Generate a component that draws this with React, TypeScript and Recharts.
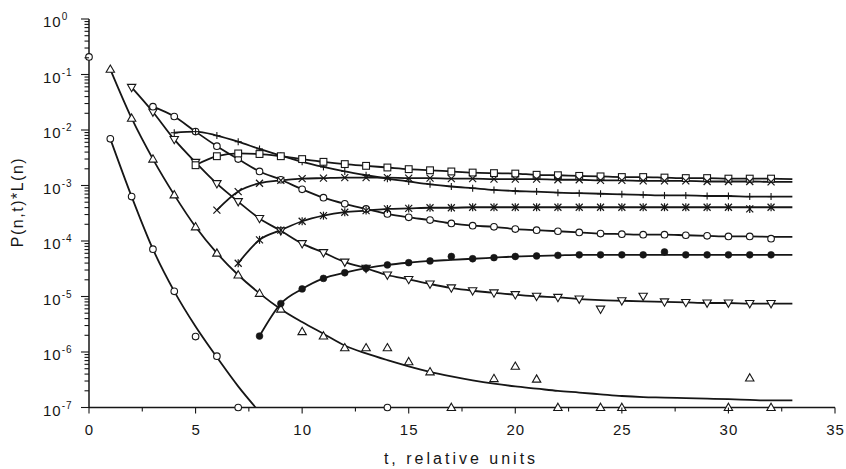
import React from 'react';
import { ComposedChart, Line, Scatter, XAxis, YAxis, Customized } from 'recharts';

const FONT = '"Liberation Sans", Arial, Helvetica, sans-serif';
const INK = '#161616';

// ---------- axes ----------
const X_TICKS = [0, 2.5, 5, 7.5, 10, 12.5, 15, 17.5, 20, 22.5, 25, 27.5, 30, 32.5, 35];
const X_LABEL_EVERY = 5;
const Y_DECADES = [-7, -6, -5, -4, -3, -2, -1];
const Y_MULTIPLIERS = [1, 2, 3, 4, 5, 6, 7, 8, 9];
const Y_TOP = 1;
const Y_TICKS: number[] = [];
Y_DECADES.forEach((e) => Y_MULTIPLIERS.forEach((m) => Y_TICKS.push(m * Math.pow(10, e))));
Y_TICKS.push(Y_TOP);
const FLOOR = 1e-7;

const X_TITLE = 't, relative units';
const Y_TITLE = 'P(n,t)*L(n)';

// ---------- series (lines: value at t = start, start+1, ...) ----------
// A: open circles
const A_START = 1;
const A_LINE = [6.92e-3, 6.31e-4, 7.11e-5, 1.24e-5, 2.88e-6, 8.04e-7, 2.4e-7, 8.3e-8];
const A_MARK_T = [0, 1, 2, 3, 4, 5, 6, 7, 14];
const A_MARK_V = [2.07e-1, 6.92e-3, 6.31e-4, 7.11e-5, 1.24e-5, 1.9e-6, 8.41e-7, FLOOR, FLOOR];

// B: triangles up
const B_START = 1;
const B_LINE = [
  1.24e-1, 1.63e-2, 2.99e-3, 6.78e-4, 1.8e-4, 6.04e-5, 2.44e-5, 1.14e-5, 5.92e-6, 3.47e-6,
  2.13e-6, 1.31e-6, 9.44e-7, 7.14e-7, 5.53e-7, 4.39e-7, 3.64e-7, 3.09e-7, 2.69e-7, 2.4e-7,
  2.19e-7, 1.99e-7, 1.86e-7, 1.73e-7, 1.61e-7, 1.54e-7, 1.51e-7, 1.47e-7, 1.44e-7, 1.41e-7,
  1.37e-7, 1.34e-7, 1.34e-7,
];
const B_MARK_T = [1, 2, 3, 4, 5, 6, 7, 8, 9, 10, 11, 12, 13, 14, 15, 16, 17, 19, 20, 21, 22, 24, 25, 30, 31, 32];
const B_MARK_V = [
  1.24e-1, 1.63e-2, 2.99e-3, 6.78e-4, 1.8e-4, 6.04e-5, 2.44e-5, 1.14e-5, 5.92e-6, 2.33e-6,
  1.94e-6, 1.19e-6, 1.19e-6, 1.19e-6, 6.67e-7, 4.39e-7, FLOOR, 3.32e-7, 5.53e-7, 3.24e-7,
  FLOOR, FLOOR, FLOOR, FLOOR, 3.4e-7, FLOOR,
];

// C: triangles down
const C_START = 2;
const C_LINE = [
  5.86e-2, 2.11e-2, 6.76e-3, 2.61e-3, 1.08e-3, 5.13e-4, 2.55e-4, 1.53e-4, 8.97e-5, 6.18e-5,
  4.17e-5, 3.23e-5, 2.44e-5, 2.03e-5, 1.68e-5, 1.43e-5, 1.27e-5, 1.16e-5, 1.08e-5, 1.01e-5,
  9.64e-6, 8.99e-6, 8.59e-6, 8.39e-6, 8.2e-6, 8.0e-6, 7.82e-6, 7.64e-6, 7.64e-6, 7.46e-6,
  7.46e-6, 7.46e-6,
];
const C_MARK_FIX_T = [24, 26];
const C_MARK_FIX_V = [5.92e-6, 1.01e-5];

// D: open circles (upper family)
const D_START = 3;
const D_LINE = [
  2.63e-2, 1.75e-2, 9.35e-3, 5.11e-3, 2.99e-3, 1.79e-3, 1.27e-3, 8.55e-4, 6.03e-4, 4.67e-4,
  3.79e-4, 3.08e-4, 2.67e-4, 2.38e-4, 2.07e-4, 1.89e-4, 1.8e-4, 1.64e-4, 1.57e-4, 1.5e-4,
  1.43e-4, 1.36e-4, 1.33e-4, 1.3e-4, 1.3e-4, 1.27e-4, 1.24e-4, 1.21e-4, 1.21e-4, 1.19e-4,
  1.19e-4,
];
const D_MARK_FIX_T = [32];
const D_MARK_FIX_V = [1.1e-4];

// E: plus
const E_START = 4;
const E_LINE = [
  8.93e-3, 9.35e-3, 7.94e-3, 6.15e-3, 4.55e-3, 3.44e-3, 2.67e-3, 2.16e-3, 1.79e-3, 1.53e-3,
  1.33e-3, 1.18e-3, 1.05e-3, 9.59e-4, 8.95e-4, 8.34e-4, 7.96e-4, 7.78e-4, 7.43e-4, 7.26e-4,
  7.1e-4, 6.93e-4, 6.78e-4, 6.62e-4, 6.62e-4, 6.47e-4, 6.47e-4, 6.31e-4, 6.31e-4, 6.31e-4,
];

// F: squares
const F_START = 5;
const F_LINE = [
  2.32e-3, 3.37e-3, 3.78e-3, 3.69e-3, 3.37e-3, 2.99e-3, 2.67e-3, 2.43e-3, 2.26e-3, 2.11e-3,
  1.97e-3, 1.88e-3, 1.79e-3, 1.71e-3, 1.67e-3, 1.64e-3, 1.56e-3, 1.53e-3, 1.49e-3, 1.46e-3,
  1.42e-3, 1.42e-3, 1.39e-3, 1.36e-3, 1.36e-3, 1.33e-3, 1.33e-3, 1.33e-3, 1.3e-3,
];

// G: crosses
const G_START = 6;
const G_LINE = [
  3.61e-4, 7.78e-4, 1.1e-3, 1.24e-3, 1.33e-3, 1.36e-3, 1.39e-3, 1.39e-3, 1.39e-3, 1.36e-3,
  1.36e-3, 1.33e-3, 1.33e-3, 1.3e-3, 1.3e-3, 1.3e-3, 1.27e-3, 1.27e-3, 1.24e-3, 1.24e-3,
  1.21e-3, 1.21e-3, 1.21e-3, 1.18e-3, 1.18e-3, 1.18e-3, 1.16e-3, 1.16e-3,
];

// H: asterisks
const H_START = 7;
const H_LINE = [
  3.98e-5, 1.05e-4, 1.57e-4, 2.27e-4, 2.86e-4, 3.3e-4, 3.53e-4, 3.79e-4, 3.87e-4, 3.97e-4,
  3.97e-4, 4.06e-4, 4.06e-4, 4.06e-4, 4.06e-4, 4.06e-4, 4.06e-4, 4.06e-4, 4.06e-4, 4.06e-4,
  4.06e-4, 4.06e-4, 4.06e-4, 4.06e-4, 4.06e-4, 4.06e-4, 4.06e-4,
];
const H_MARK_FIX_T = [31];
const H_MARK_FIX_V = [3.79e-4];

// I: filled circles
const I_START = 8;
const I_LINE = [
  1.94e-6, 7.46e-6, 1.37e-5, 2.12e-5, 2.68e-5, 3.23e-5, 3.71e-5, 4.07e-5, 4.37e-5, 4.57e-5,
  4.79e-5, 5.01e-5, 5.26e-5, 5.38e-5, 5.51e-5, 5.64e-5, 5.64e-5, 5.64e-5, 5.64e-5, 5.64e-5,
  5.64e-5, 5.64e-5, 5.64e-5, 5.64e-5, 5.64e-5, 5.64e-5,
];
const I_MARK_FIX_T = [17, 27];
const I_MARK_FIX_V = [5.26e-5, 6.34e-5];

const LAST_MARK_T = 32;

// ---------- helpers ----------
type Pt = { t: number; v: number };
const linePts = (start: number, vals: number[]): Pt[] => vals.map((v, i) => ({ t: start + i, v }));
const pairPts = (ts: number[], vs: number[]): Pt[] => ts.map((t, i) => ({ t, v: vs[i] }));
const markPts = (start: number, vals: number[], fixT: number[] = [], fixV: number[] = []): Pt[] =>
  linePts(start, vals)
    .filter((p) => p.t <= LAST_MARK_T)
    .map((p) => {
      const k = fixT.indexOf(p.t);
      return k >= 0 ? { t: p.t, v: fixV[k] } : p;
    });

type Kind = 'circle' | 'dot' | 'triUp' | 'triDown' | 'square' | 'plus' | 'cross' | 'star';

const Mark = ({ kind, cx, cy }: { kind: Kind; cx: number; cy: number }) => {
  if (cx == null || cy == null || isNaN(cx) || isNaN(cy)) return null;
  const sw = 1.1;
  switch (kind) {
    case 'circle':
      return <circle cx={cx} cy={cy} r={3.3} fill="#fff" stroke={INK} strokeWidth={sw} />;
    case 'dot':
      return <circle cx={cx} cy={cy} r={3.4} fill={INK} stroke={INK} strokeWidth={0.6} />;
    case 'triUp':
      return (
        <polygon
          points={`${cx},${cy - 4.3} ${cx + 4.2},${cy + 3} ${cx - 4.2},${cy + 3}`}
          fill="#fff"
          stroke={INK}
          strokeWidth={sw}
        />
      );
    case 'triDown':
      return (
        <polygon
          points={`${cx},${cy + 4.3} ${cx + 4.2},${cy - 3} ${cx - 4.2},${cy - 3}`}
          fill="#fff"
          stroke={INK}
          strokeWidth={sw}
        />
      );
    case 'square':
      return <rect x={cx - 3.4} y={cy - 3.4} width={6.8} height={6.8} fill="#fff" stroke={INK} strokeWidth={sw} />;
    case 'plus':
      return (
        <g stroke={INK} strokeWidth={1.1}>
          <line x1={cx} x2={cx} y1={cy - 3.5} y2={cy + 3.5} />
          <line x1={cx - 3.5} x2={cx + 3.5} y1={cy} y2={cy} />
        </g>
      );
    case 'cross':
      return (
        <g stroke={INK} strokeWidth={1.2}>
          <line x1={cx - 3.5} x2={cx + 3.5} y1={cy - 3.5} y2={cy + 3.5} />
          <line x1={cx - 3.5} x2={cx + 3.5} y1={cy + 3.5} y2={cy - 3.5} />
        </g>
      );
    case 'star':
      return (
        <g stroke={INK} strokeWidth={1.2}>
          <line x1={cx - 3.5} x2={cx + 3.5} y1={cy - 3.5} y2={cy + 3.5} />
          <line x1={cx - 3.5} x2={cx + 3.5} y1={cy + 3.5} y2={cy - 3.5} />
          <line x1={cx} x2={cx} y1={cy - 4} y2={cy + 4} />
        </g>
      );
  }
  return null;
};

const YTick = (props: any) => {
  const { x, y, payload } = props;
  const v = payload.value as number;
  const lg = Math.log10(v);
  const major = Math.abs(lg - Math.round(lg)) < 1e-6;
  const len = major ? 8 : 4.5;
  return (
    <g>
      <line x1={x} x2={x - len} y1={y} y2={y} stroke={INK} strokeWidth={1.1} />
      {major && (
        <text x={x - 46} y={y + 8} fontSize={15} fontFamily={FONT} fill={INK} letterSpacing={1}>
          10
          <tspan dy={-7} fontSize={10}>
            {String(Math.round(lg))}
          </tspan>
        </text>
      )}
    </g>
  );
};

const XTick = (props: any) => {
  const { x, y, payload } = props;
  const v = payload.value as number;
  const major = v % X_LABEL_EVERY === 0;
  return (
    <g>
      <line x1={x} x2={x} y1={y} y2={y + (major ? 6 : 4)} stroke={INK} strokeWidth={1.1} />
      {major && (
        <text x={x + 0.5} y={y + 27} textAnchor="middle" fontSize={15} fontFamily={FONT} fill={INK} letterSpacing={1}>
          {String(v)}
        </text>
      )}
    </g>
  );
};

const Titles = () => (
  <g fontFamily={FONT} fill={INK}>
    <text x={461} y={464} textAnchor="middle" fontSize={16} letterSpacing={3}>
      {X_TITLE}
    </text>
    <text transform="translate(22.5,202) rotate(-90)" textAnchor="middle" fontSize={16} letterSpacing={1.5}>
      {Y_TITLE}
    </text>
  </g>
);

const SERIES: { key: string; kind: Kind; line: Pt[]; marks: Pt[] }[] = [
  { key: 'A', kind: 'circle', line: linePts(A_START, A_LINE), marks: pairPts(A_MARK_T, A_MARK_V) },
  { key: 'B', kind: 'triUp', line: linePts(B_START, B_LINE), marks: pairPts(B_MARK_T, B_MARK_V) },
  { key: 'C', kind: 'triDown', line: linePts(C_START, C_LINE), marks: markPts(C_START, C_LINE, C_MARK_FIX_T, C_MARK_FIX_V) },
  { key: 'D', kind: 'circle', line: linePts(D_START, D_LINE), marks: markPts(D_START, D_LINE, D_MARK_FIX_T, D_MARK_FIX_V) },
  { key: 'E', kind: 'plus', line: linePts(E_START, E_LINE), marks: markPts(E_START, E_LINE) },
  { key: 'F', kind: 'square', line: linePts(F_START, F_LINE), marks: markPts(F_START, F_LINE) },
  { key: 'G', kind: 'cross', line: linePts(G_START, G_LINE), marks: markPts(G_START, G_LINE) },
  { key: 'H', kind: 'star', line: linePts(H_START, H_LINE), marks: markPts(H_START, H_LINE, H_MARK_FIX_T, H_MARK_FIX_V) },
  { key: 'I', kind: 'dot', line: linePts(I_START, I_LINE), marks: markPts(I_START, I_LINE, I_MARK_FIX_T, I_MARK_FIX_V) },
];

export default function App() {
  return (
    <div style={{ position: 'absolute', left: 0, top: 0, width: 846, height: 469, background: '#fff' }}>
      <ComposedChart width={846} height={469} margin={{ top: 19, right: 11, bottom: 0, left: 0 }}>
        <XAxis
          xAxisId="x"
          dataKey="t"
          type="number"
          domain={[0, 35]}
          ticks={X_TICKS}
          interval={0}
          tickLine={false}
          tickSize={0}
          tickMargin={0}
          axisLine={{ stroke: INK, strokeWidth: 1.5 }}
          tick={<XTick />}
          height={61.5}
        />
        <YAxis
          yAxisId="main"
          dataKey="v"
          type="number"
          scale="log"
          domain={[FLOOR, Y_TOP]}
          allowDataOverflow
          ticks={Y_TICKS}
          interval={0}
          tickLine={false}
          tickSize={0}
          tickMargin={0}
          axisLine={{ stroke: INK, strokeWidth: 1.5 }}
          tick={<YTick />}
          width={89}
        />
        <YAxis
          yAxisId="m"
          orientation="right"
          dataKey="v"
          type="number"
          scale="log"
          domain={[FLOOR, Y_TOP]}
          hide
        />
        {SERIES.map((s) => (
          <Line
            key={'l' + s.key}
            xAxisId="x"
            yAxisId="main"
            data={s.line}
            dataKey="v"
            type="monotone"
            stroke={INK}
            strokeWidth={1.8}
            dot={false}
            activeDot={false}
            isAnimationActive={false}
          />
        ))}
        {SERIES.map((s) => (
          <Scatter
            key={'m' + s.key}
            xAxisId="x"
            yAxisId="m"
            data={s.marks}
            dataKey="v"
            isAnimationActive={false}
            shape={(p: any) => <Mark kind={s.kind} cx={p.cx} cy={p.cy} />}
          />
        ))}
        <Customized component={Titles} />
      </ComposedChart>
    </div>
  );
}
